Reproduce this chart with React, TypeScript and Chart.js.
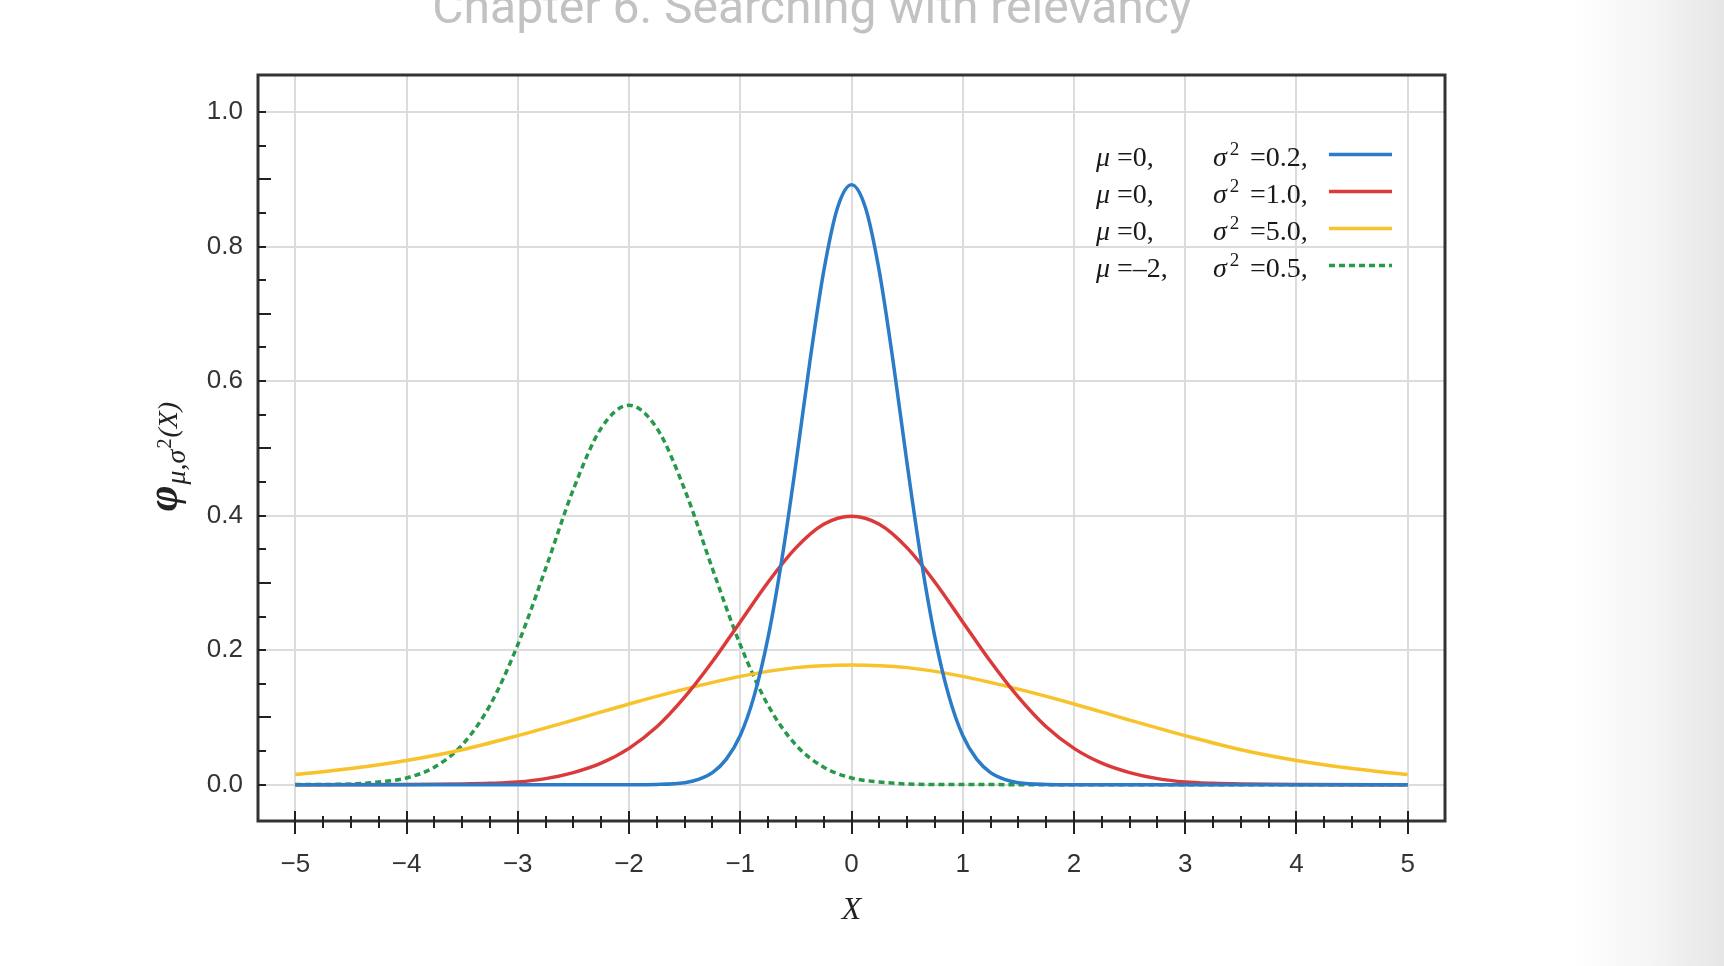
import React, { useEffect, useRef } from 'react';
import { Chart, registerables } from 'chart.js';

Chart.register(...registerables);

// ---------- text ----------
const PAGE_TITLE = 'Chapter 6. Searching with relevancy';
const X_TITLE = 'X';

// ---------- axis ticks ----------
const X_TICKS = [-5, -4, -3, -2, -1, 0, 1, 2, 3, 4, 5];
const Y_TICKS = [0, 0.2, 0.4, 0.6, 0.8, 1.0];
const X_RANGE = [-5.335, 5.335];
const Y_RANGE = [-0.054, 1.055];

// ---------- series ----------
// μ=0, σ²=0.2
const BLUE_X = [-5, -2, -1.75, -1.5, -1.375, -1.25, -1.125, -1, -0.875, -0.75, -0.625, -0.5, -0.375, -0.25, -0.125, 0,
  0.125, 0.25, 0.375, 0.5, 0.625, 0.75, 0.875, 1, 1.125, 1.25, 1.375, 1.5, 1.75, 2, 5];
const BLUE_Y = [0, 0, 0.0004, 0.003, 0.008, 0.018, 0.038, 0.073, 0.132, 0.219, 0.336, 0.477, 0.628, 0.763, 0.858, 0.892,
  0.858, 0.763, 0.628, 0.477, 0.336, 0.219, 0.132, 0.073, 0.038, 0.018, 0.008, 0.003, 0.0004, 0, 0];

// μ=0, σ²=1.0
const RED_X = [-5, -4, -3.5, -3.25, -3, -2.75, -2.5, -2.25, -2, -1.75, -1.5, -1.25, -1, -0.75, -0.5, -0.25, 0,
  0.25, 0.5, 0.75, 1, 1.25, 1.5, 1.75, 2, 2.25, 2.5, 2.75, 3, 3.25, 3.5, 4, 5];
const RED_Y = [0, 0.0001, 0.001, 0.002, 0.004, 0.009, 0.018, 0.032, 0.054, 0.086, 0.130, 0.183, 0.242, 0.301, 0.352, 0.387, 0.399,
  0.387, 0.352, 0.301, 0.242, 0.183, 0.130, 0.086, 0.054, 0.032, 0.018, 0.009, 0.004, 0.002, 0.001, 0.0001, 0];

// μ=0, σ²=5.0
const YELLOW_X = [-5, -4.5, -4, -3.5, -3, -2.5, -2, -1.5, -1, -0.5, 0, 0.5, 1, 1.5, 2, 2.5, 3, 3.5, 4, 4.5, 5];
const YELLOW_Y = [0.015, 0.024, 0.036, 0.052, 0.073, 0.096, 0.120, 0.142, 0.161, 0.174, 0.178,
  0.174, 0.161, 0.142, 0.120, 0.096, 0.073, 0.052, 0.036, 0.024, 0.015];

// μ=-2, σ²=0.5
const GREEN_X = [-5, -4.75, -4.5, -4.25, -4, -3.75, -3.5, -3.25, -3, -2.75, -2.5, -2.25, -2, -1.75, -1.5, -1.25, -1,
  -0.75, -0.5, -0.25, 0, 0.25, 0.5, 0.75, 1, 5];
const GREEN_Y = [0.0001, 0.0003, 0.001, 0.004, 0.010, 0.026, 0.059, 0.118, 0.208, 0.321, 0.439, 0.530, 0.564, 0.530, 0.439, 0.321, 0.208,
  0.118, 0.059, 0.026, 0.010, 0.004, 0.001, 0.0003, 0.0001, 0];

// ---------- legend text ----------
const LEGEND_MU = ['0,', '0,', '0,', '\u20132,'];
const LEGEND_SIGMA2 = ['0.2,', '1.0,', '5.0,', '0.5,'];

// ---------- styles ----------
const COLORS = ['#2a7cc8', '#da3a3a', '#f7c22a', '#26994a'];
const DASHES: number[][] = [[], [], [], [6, 4]];

const SERIF = '"Liberation Serif", "DejaVu Serif", serif';
const SANS = '"Liberation Sans", Arial, sans-serif';

function pts(xs: number[], ys: number[]) {
  return xs.map((x, i) => ({ x, y: ys[i] }));
}

const fmtX = (v: number) => (v < 0 ? '\u2212' + Math.abs(v) : String(v));

const decorPlugin = {
  id: 'decor',
  afterDraw(chart: any) {
    const { ctx, chartArea: ca, scales } = chart;
    const xs = scales.x;
    const ys = scales.y;
    ctx.save();

    // page title (cut at top)
    ctx.font = `48px Roboto`;
    ctx.fillStyle = '#c2c2c2';
    ctx.textAlign = 'center';
    ctx.textBaseline = 'alphabetic';
    ctx.fillText(PAGE_TITLE, 812, 23);

    // frame
    ctx.strokeStyle = '#333';
    ctx.lineWidth = 3;
    ctx.strokeRect(ca.left, ca.top, ca.right - ca.left, ca.bottom - ca.top);

    // x ticks (major + minor)
    ctx.strokeStyle = '#222';
    ctx.lineWidth = 2;
    for (let i = 0; i <= 40; i++) {
      const v = X_TICKS[0] + i * 0.25;
      const px = Math.round(xs.getPixelForValue(v));
      const major = i % 4 === 0;
      ctx.beginPath();
      ctx.moveTo(px, ca.bottom - (major ? 10 : 5));
      ctx.lineTo(px, ca.bottom + (major ? 13 : 7));
      ctx.stroke();
    }
    // y ticks
    for (let i = 0; i <= 20; i++) {
      const v = i * 0.05;
      const py = Math.round(ys.getPixelForValue(v));
      const len = i % 2 === 0 && i % 4 !== 0 ? 13 : 8;
      ctx.beginPath();
      ctx.moveTo(ca.left, py);
      ctx.lineTo(ca.left + len, py);
      ctx.stroke();
    }

    // legend
    ctx.fillStyle = '#1a1a1a';
    ctx.textAlign = 'left';
    ctx.textBaseline = 'alphabetic';
    for (let i = 0; i < 4; i++) {
      const by = 166 + 37 * i;
      ctx.font = `italic 28px ${SERIF}`;
      ctx.fillText('\u03bc', 1096, by);
      ctx.font = `28px ${SERIF}`;
      ctx.fillText('=' + LEGEND_MU[i], 1117, by);

      let x = 1213;
      ctx.font = `italic 28px ${SERIF}`;
      ctx.fillText('\u03c3', x, by);
      x += ctx.measureText('\u03c3').width + 3;
      ctx.font = `19px ${SERIF}`;
      ctx.fillText('2', x, by - 11);
      x += ctx.measureText('2').width + 5;
      ctx.font = `28px ${SERIF}`;
      ctx.fillText('=' + LEGEND_SIGMA2[i], Math.max(x, 1250), by);

      ctx.strokeStyle = COLORS[i];
      ctx.lineWidth = 3.5;
      ctx.setLineDash(DASHES[i]);
      ctx.beginPath();
      ctx.moveTo(1329, 154.5 + 37 * i);
      ctx.lineTo(1392, 154.5 + 37 * i);
      ctx.stroke();
      ctx.setLineDash([]);
    }

    // x title
    ctx.font = `italic 32px ${SERIF}`;
    ctx.textAlign = 'center';
    ctx.fillStyle = '#222';
    ctx.fillText(X_TITLE, (ca.left + ca.right) / 2, 919);

    // y title  φ_{μ,σ²}(X)
    ctx.translate(177, 456);
    ctx.rotate(-Math.PI / 2);
    ctx.textAlign = 'left';
    const parts: [string, string, number][] = [
      ['\u03c6', `italic bold 44px ${SERIF}`, 0],
      ['\u03bc,\u03c3', `italic 28px ${SERIF}`, 8],
      ['2', `20px ${SERIF}`, -6],
      ['(X)', `italic 28px ${SERIF}`, 0],
    ];
    let total = 0;
    const widths = parts.map(([t, f]) => {
      ctx.font = f;
      const w = ctx.measureText(t).width;
      total += w + 1;
      return w;
    });
    let x = -total / 2;
    parts.forEach(([t, f, dy], i) => {
      ctx.font = f;
      ctx.fillText(t, x, dy);
      x += widths[i] + 1;
    });

    ctx.restore();
  },
};

export default function App() {
  const ref = useRef<HTMLCanvasElement>(null);

  useEffect(() => {
    if (!ref.current) return;
    const series = [
      pts(BLUE_X, BLUE_Y),
      pts(RED_X, RED_Y),
      pts(YELLOW_X, YELLOW_Y),
      pts(GREEN_X, GREEN_Y),
    ];
    const chart = new Chart(ref.current, {
      type: 'line',
      data: {
        datasets: series.map((d, i) => ({
          data: d,
          borderColor: COLORS[i],
          borderWidth: 3.5,
          borderDash: DASHES[i],
          pointRadius: 0,
          fill: false,
          cubicInterpolationMode: 'monotone' as const,
        })),
      },
      options: {
        animation: false,
        responsive: false,
        maintainAspectRatio: false,
        layout: { padding: { left: 0, top: 75, right: 279, bottom: 0 } },
        plugins: { legend: { display: false }, tooltip: { enabled: false }, title: { display: false } },
        events: [],
        scales: {
          x: {
            type: 'linear',
            min: X_RANGE[0],
            max: X_RANGE[1],
            afterBuildTicks: (s: any) => { s.ticks = X_TICKS.map((v) => ({ value: v })); },
            afterFit: (s: any) => { s.height = 145; },
            grid: { color: '#dcdcdc', lineWidth: 2, drawTicks: false },
            border: { display: false },
            ticks: {
              autoSkip: false,
              maxRotation: 0,
              padding: 28,
              color: '#333',
              font: { family: SANS, size: 26 },
              callback: (v: any) => fmtX(Number(v)),
            },
          },
          y: {
            type: 'linear',
            min: Y_RANGE[0],
            max: Y_RANGE[1],
            afterBuildTicks: (s: any) => { s.ticks = Y_TICKS.map((v) => ({ value: v })); },
            afterFit: (s: any) => { s.width = 258; },
            grid: { color: '#dcdcdc', lineWidth: 2, drawTicks: false },
            border: { display: false },
            ticks: {
              autoSkip: false,
              padding: 15,
              color: '#333',
              font: { family: SANS, size: 26 },
              callback: (v: any) => Number(v).toFixed(1),
            },
          },
        },
      },
      plugins: [decorPlugin],
    });
    return () => chart.destroy();
  }, []);

  return (
    <div
      style={{
        position: 'fixed',
        left: 0,
        top: 0,
        width: 1724,
        height: 966,
        background: 'linear-gradient(to right, #ffffff 0px, #ffffff 1570px, #f5f5f5 1650px, #e6e6e6 1724px)',
      }}
    >
      <canvas ref={ref} width={1724} height={966} style={{ display: 'block' }} />
    </div>
  );
}
